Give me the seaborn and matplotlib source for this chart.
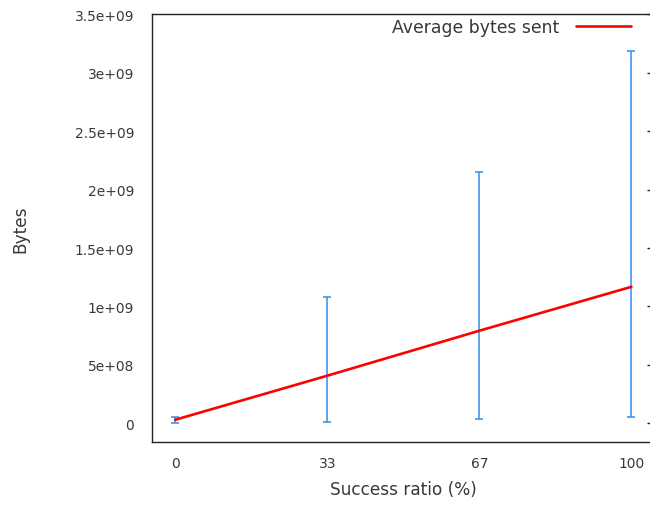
import numpy as np
import pandas as pd
import matplotlib
matplotlib.use("Agg")
import matplotlib.pyplot as plt
import seaborn as sns

# Success ratio positions and their tick labels
success_ratio = [0.0, 100 / 3, 200 / 3, 100.0]
ratio_labels = ["0", "33", "67", "100"]

# Average bytes sent and the min / max range at each ratio
avg_bytes = [3.0e7, 4.07e8, 7.92e8, 1.168e9]
min_bytes = [0.0, 1.4e7, 3.7e7, 5.6e7]
max_bytes = [5.6e7, 1.083e9, 2.152e9, 3.187e9]

y_ticks = [0, 5e8, 1e9, 1.5e9, 2e9, 2.5e9, 3e9, 3.5e9]
y_tick_labels = ["0", "5e+08", "1e+09", "1.5e+09", "2e+09", "2.5e+09", "3e+09", "3.5e+09"]

sns.set_theme(style="white")
plt.rcParams["font.family"] = ["DejaVu Sans"]

text_color = "#383838"
bar_color = "#3f97ee"

df = pd.DataFrame({"ratio": success_ratio, "avg": avg_bytes})

fig = plt.figure(figsize=(6.5, 5.06), dpi=100)
ax = fig.add_axes([0.2343, 0.1251, 0.7722, 0.8447])

lower = np.array(avg_bytes) - np.array(min_bytes)
upper = np.array(max_bytes) - np.array(avg_bytes)
ax.errorbar(success_ratio, avg_bytes, yerr=[lower, upper], fmt="none",
            ecolor=bar_color, elinewidth=1.2, capsize=3, capthick=1.2, zorder=2)

sns.lineplot(data=df, x="ratio", y="avg", ax=ax, color="#ff0000", linewidth=1.9,
             label="Average bytes sent", zorder=3)

ax.set_xlim(-5, 105)
ax.set_ylim(-1.575e8, 3.5e9)
ax.set_xticks(success_ratio)
ax.set_xticklabels(ratio_labels)
ax.set_yticks(y_ticks)
ax.set_yticklabels(y_tick_labels)

for side in ["left", "bottom", "top", "right"]:
    ax.spines[side].set_visible(True)
    ax.spines[side].set_color("#222222")
    ax.spines[side].set_linewidth(1.0)

ax.tick_params(axis="both", direction="in", length=5, width=1.0, colors="#222222",
               labelsize=9.9, labelcolor=text_color)
ax.tick_params(axis="y", pad=13, right=True)
ax.tick_params(axis="x", pad=10, top=False)

ax.set_xlabel("Success ratio (%)", fontsize=12.2, color=text_color, labelpad=7.5)
ax.set_ylabel("Bytes", fontsize=12.2, color=text_color, va="center")
ax.yaxis.set_label_coords((20 - 152.3) / 501.9, 0.5)

leg = ax.legend(loc="upper right", bbox_to_anchor=(631 / 650, 1 - 19 / 506),
                bbox_transform=fig.transFigure, frameon=False, markerfirst=False,
                fontsize=12.4, handlelength=3.2, handletextpad=0.95,
                borderaxespad=0, borderpad=0)
for t in leg.get_texts():
    t.set_color(text_color)

fig.savefig("out.png", dpi=100)
